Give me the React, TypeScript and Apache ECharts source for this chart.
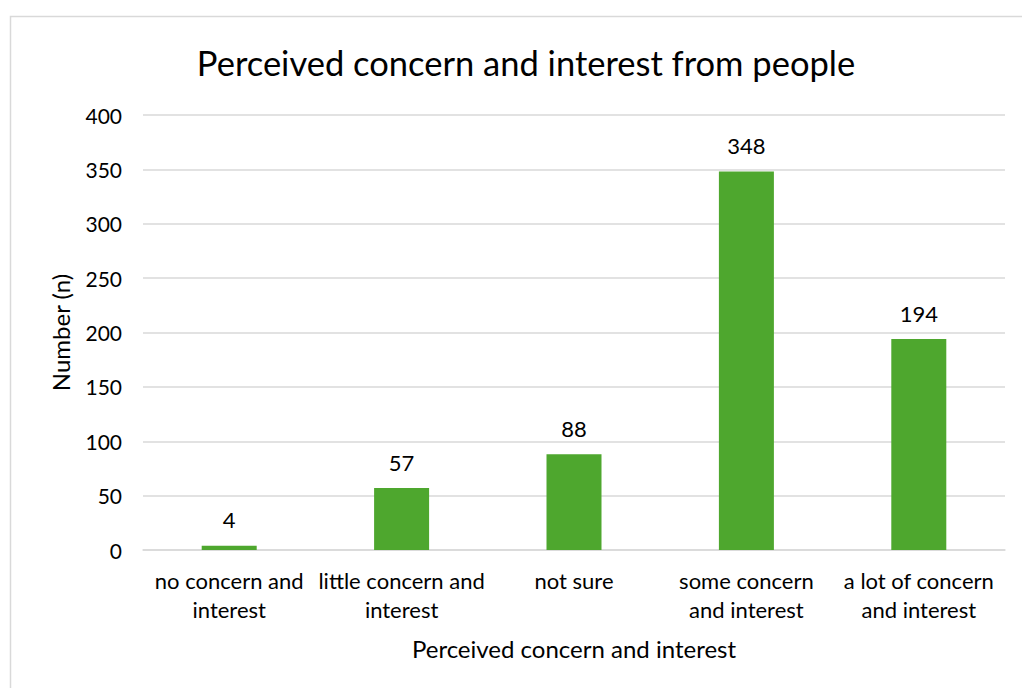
import React, { useEffect, useRef } from "react";
import * as echarts from "echarts";

const categories = [
  "no concern and\ninterest",
  "little concern and\ninterest",
  "not sure",
  "some concern\nand interest",
  "a lot of concern\nand interest",
];
const values = [4, 57, 88, 348, 194];
const yTicks = { min: 0, max: 400, interval: 50 };

const FONT = "Lato, 'Open Sans', sans-serif";

export default function App() {
  const ref = useRef<HTMLDivElement>(null);
  useEffect(() => {
    if (!ref.current) return;
    const chart = echarts.init(ref.current, undefined, { renderer: "svg" });
    chart.setOption({
      animation: false,
      backgroundColor: "#ffffff",
      textStyle: { fontFamily: FONT },
      graphic: [
        {
          type: "rect",
          shape: { x: 10.5, y: 16.5, width: 1040, height: 700 },
          style: { fill: "none", stroke: "#d9d9d9", lineWidth: 1.5 },
          silent: true,
        },
      ],
      title: {
        text: "Perceived concern and interest from people",
        left: 521,
        top: 40,
        textAlign: "center",
        textStyle: { fontFamily: FONT, fontSize: 34.5, fontWeight: "normal", color: "#000" },
      },
      grid: { left: 143, right: 17, top: 115, bottom: 138, containLabel: false },
      xAxis: {
        type: "category",
        data: categories,
        name: "Perceived concern and interest",
        nameLocation: "middle",
        nameGap: 86,
        nameTextStyle: { fontFamily: FONT, fontSize: 24, color: "#000" },
        axisLine: { lineStyle: { color: "#d9d9d9", width: 1.5 } },
        axisTick: { show: false },
        axisLabel: {
          fontFamily: FONT,
          fontSize: 22,
          color: "#000",
          lineHeight: 29,
          margin: 16,
          interval: 0,
        },
      },
      yAxis: {
        type: "value",
        min: yTicks.min,
        max: yTicks.max,
        interval: yTicks.interval,
        name: "Number (n)",
        nameLocation: "middle",
        nameGap: 71,
        nameRotate: 90,
        nameTextStyle: { fontFamily: FONT, fontSize: 24, color: "#000" },
        axisLine: { show: false },
        axisTick: { show: false },
        axisLabel: { fontFamily: FONT, fontSize: 21, color: "#000", margin: 21 },
        splitLine: { lineStyle: { color: "#d9d9d9", width: 1.5 } },
      },
      series: [
        {
          type: "bar",
          data: values,
          barWidth: 55,
          itemStyle: { color: "#4ea72e" },
          label: {
            show: true,
            position: "top",
            distance: 15,
            fontFamily: FONT,
            fontSize: 22,
            color: "#000",
          },
        },
      ],
    });
    return () => chart.dispose();
  }, []);
  return (
    <div
      ref={ref}
      style={{ position: "fixed", left: 0, top: 0, width: 1022, height: 688 }}
    />
  );
}
